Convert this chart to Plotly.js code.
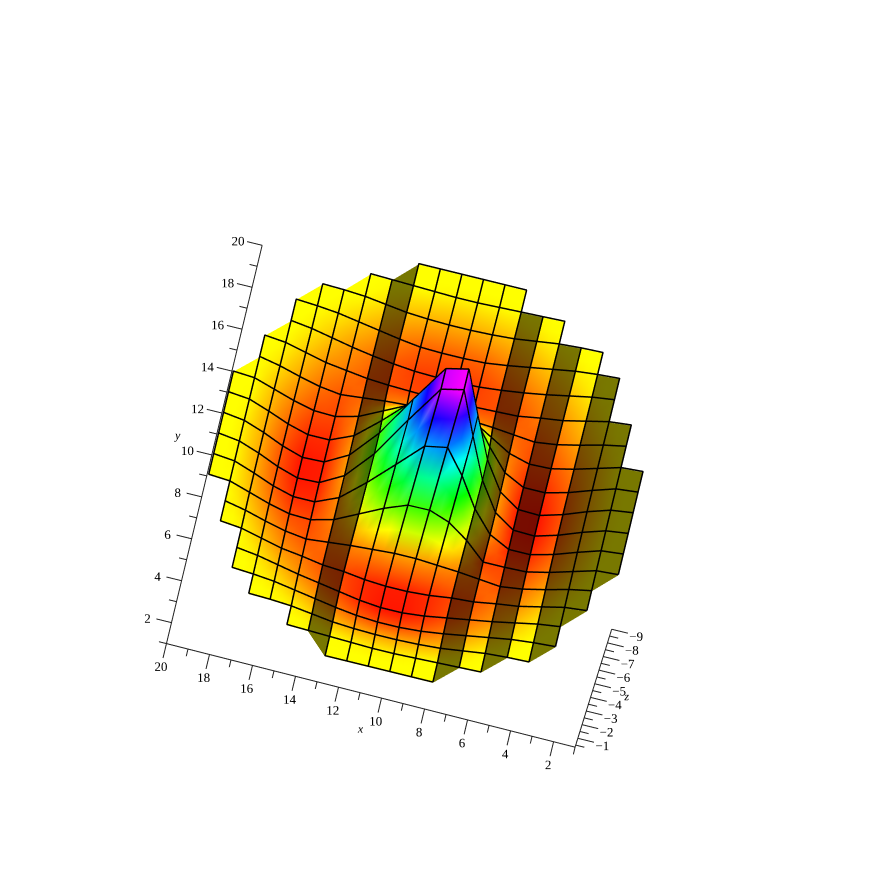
<!DOCTYPE html>
<html><head><meta charset="utf-8">
<script src="https://cdn.plot.ly/plotly-3.0.1.min.js"></script>
<style>html,body{margin:0;padding:0;background:#fff}#c{width:874px;height:874px}</style>
</head><body><div id="c"></div>
<script>
const xValues=[1,2,3,4,5,6,7,8,9,10,11,12,13,14,15,16,17,18,19,20];
const yValues=[1,2,3,4,5,6,7,8,9,10,11,12,13,14,15,16,17,18,19,20];
const n=null;
const zRows=[
[n,n,n,n,n,n,n,-2.35,-2.35,-2.35,-2.35,-2.35,-2.35,n,n,n,n,n,n,n],
[n,n,n,n,n,-2.35,-2.3,-2.25,-2.2,-2.15,-2.15,-2.2,-2.25,-2.3,-2.35,n,n,n,n,n],
[n,n,n,-2.35,-2.3,-2.2,-2.0,-1.8,-1.7,-1.65,-1.65,-1.7,-1.8,-2.0,-2.2,-2.3,-2.35,n,n,n],
[n,n,-2.35,-2.25,-2.1,-1.85,-1.6,-1.35,-1.15,-1.05,-1.05,-1.15,-1.35,-1.6,-1.85,-2.1,-2.25,-2.35,n,n],
[n,n,-2.3,-2.1,-1.8,-1.5,-1.25,-1.0,-0.75,-0.6,-0.6,-0.75,-1.0,-1.25,-1.5,-1.8,-2.1,-2.3,n,n],
[n,-2.35,-2.2,-1.85,-1.5,-1.3,-1.05,-0.95,-0.75,-0.65,-0.65,-0.75,-0.95,-1.05,-1.3,-1.5,-1.85,-2.2,-2.35,n],
[n,-2.3,-2.0,-1.6,-1.25,-1.05,-1.2,-1.35,-1.45,-1.55,-1.55,-1.45,-1.35,-1.2,-1.05,-1.25,-1.6,-2.0,-2.3,n],
[-2.35,-2.25,-1.8,-1.35,-1.0,-0.95,-0.95,-2.15,-3.09,-3.6,-3.58,-2.95,-2.15,-1.35,-0.95,-1.0,-1.35,-1.8,-2.25,-2.35],
[-2.35,-2.2,-1.7,-1.15,-0.75,-0.75,-1.45,-2.95,-5.0,-6.68,-6.39,-4.65,-2.95,-1.45,-0.75,-0.75,-1.15,-1.7,-2.2,-2.35],
[-2.35,-2.15,-1.65,-1.05,-0.6,-0.65,-1.55,-3.55,-6.4,-9.4,-9.05,-6.4,-3.55,-1.55,-0.65,-0.6,-1.05,-1.65,-2.15,-2.35],
[-2.35,-2.15,-1.65,-1.05,-0.6,-0.65,-1.55,-3.55,-6.4,-9.4,-9.05,-6.4,-3.55,-1.55,-0.65,-0.6,-1.05,-1.65,-2.15,-2.35],
[-2.35,-2.2,-1.7,-1.15,-0.75,-0.75,-1.45,-2.95,-4.65,-6.55,-6.55,-4.65,-2.95,-1.45,-0.75,-0.75,-1.15,-1.7,-2.2,-2.35],
[-2.35,-2.25,-1.8,-1.35,-1.0,-0.95,-1.35,-2.15,-2.95,-3.55,-3.55,-2.95,-2.15,-1.35,-0.95,-1.0,-1.35,-1.8,-2.25,-2.35],
[n,-2.3,-2.0,-1.6,-1.25,-1.05,-1.2,-1.35,-1.45,-1.55,-1.55,-1.45,-1.35,-1.2,-1.05,-1.25,-1.6,-2.0,-2.3,n],
[n,-2.35,-2.2,-1.85,-1.5,-1.3,-1.05,-1.0,-0.95,-0.9,-0.9,-0.95,-1.0,-1.1,-1.3,-1.5,-1.85,-2.2,-2.35,n],
[n,n,-2.3,-2.1,-1.8,-1.5,-1.25,-1.05,-0.9,-0.85,-0.85,-0.9,-1.05,-1.25,-1.5,-1.8,-2.1,-2.3,n,n],
[n,n,-2.35,-2.25,-2.1,-1.85,-1.6,-1.35,-1.15,-1.1,-1.1,-1.15,-1.35,-1.6,-1.85,-2.1,-2.25,-2.35,n,n],
[n,n,n,-2.35,-2.3,-2.2,-2.0,-1.8,-1.7,-1.65,-1.65,-1.7,-1.8,-2.0,-2.2,-2.3,-2.35,n,n,n],
[n,n,n,n,n,-2.35,-2.3,-2.25,-2.2,-2.15,-2.15,-2.2,-2.25,-2.3,-2.35,n,n,n,n,n],
[n,n,n,n,n,n,n,-2.35,-2.35,-2.35,-2.35,-2.35,-2.35,n,n,n,n,n,n,n]
];
const darkColumns=[1,2,3,5,7,13];
const xMajor=[2,4,6,8,10,12,14,16,18,20];
const xMinor=[1,3,5,7,9,11,13,15,17,19];
const yMajor=[2,4,6,8,10,12,14,16,18,20];
const yMinor=[1,3,5,7,9,11,13,15,17,19];
const zMajor=[-1,-2,-3,-4,-5,-6,-7,-8,-9];
const zMinor=[-0.5,-1.5,-2.5,-3.5,-4.5,-5.5,-6.5,-7.5,-8.5];

function hueOf(z){
  const h=33.5*(-0.45-z);
  if(z>-2.42)return Math.max(0,Math.min(60,h));
  return Math.min(300,h);
}
function rgb(z,f){
  const h=hueOf(z)/60,c=255,x=c*(1-Math.abs(h%2-1));
  let p=h<1?[c,x,0]:h<2?[x,c,0]:h<3?[0,c,x]:h<4?[0,x,c]:h<5?[x,0,c]:[c,0,x];
  return 'rgb('+p.map(v=>Math.round(v*f)).join(',')+')';
}
const mx=[],my=[],mz=[],mc=[],mi=[],mj=[],mk=[],wx=[],wy=[],wz=[];
const lift=0.06, sub=2;
function addVertex(x,y,z,f){mx.push(x);my.push(y);mz.push(z);mc.push(rgb(z,f));return mx.length-1;}
for(let r=0;r<19;r++)for(let c=0;c<19;c++){
  const z00=zRows[r][c],z10=zRows[r][c+1],z11=zRows[r+1][c+1],z01=zRows[r+1][c];
  const x0=xValues[c],y0=yValues[r];
  const f=darkColumns.includes(x0)?0.47:1;
  if(z00!==null&&z10!==null&&z11!==null&&z01!==null){
    const ids=[];
    for(let j=0;j<=sub;j++)for(let i=0;i<=sub;i++){
      const u=i/sub,v=j/sub;
      ids.push(addVertex(x0+u,y0+v,(1-u)*(1-v)*z00+u*(1-v)*z10+u*v*z11+(1-u)*v*z01,f));
    }
    for(let j=0;j<sub;j++)for(let i=0;i<sub;i++){
      const a=ids[j*(sub+1)+i],b=ids[j*(sub+1)+i+1],d=ids[(j+1)*(sub+1)+i],e=ids[(j+1)*(sub+1)+i+1];
      mi.push(a,b);mj.push(b,e);mk.push(d,d);
    }
    [[x0,y0,z00],[x0+1,y0,z10],[x0+1,y0+1,z11],[x0,y0+1,z01],[x0,y0,z00]].forEach(p=>{wx.push(p[0]);wy.push(p[1]);wz.push(p[2]-lift);});
    wx.push(null);wy.push(null);wz.push(null);
  } else {
    const missHigh=z11===null&&z00!==null&&z10!==null&&z01!==null;
    const missLow=z00===null&&z10!==null&&z11!==null&&z01!==null;
    const kept=x0===13&&y0===1;
    if(missHigh||missLow||kept){
      const pts=[[x0,y0,z00],[x0+1,y0,z10],[x0+1,y0+1,z11],[x0,y0+1,z01]].filter(p=>p[2]!==null);
      const a=addVertex(pts[0][0],pts[0][1],pts[0][2],f),b=addVertex(pts[1][0],pts[1][1],pts[1][2],f),d=addVertex(pts[2][0],pts[2][1],pts[2][2],f);
      mi.push(a);mj.push(b);mk.push(d);
    }
  }
}
const plane=(x,y)=>-0.35-0.0121*(x-1)-0.0242*(y-1);
const ax=[],ay=[],az=[];
function seg(x0,y0,z0,x1,y1,z1){ax.push(x0,x1,null);ay.push(y0,y1,null);az.push(z0,z1,null);}
seg(1,1,plane(1,1),20,1,plane(20,1));
seg(20,1,plane(20,1),20,20,plane(20,20));
seg(1,1,plane(1,1),1,1,-9);
xMajor.forEach(v=>seg(v,1,plane(v,1),v,0.3,plane(v,1)));
xMinor.forEach(v=>seg(v,1,plane(v,1),v,0.65,plane(v,1)));
yMajor.forEach(v=>seg(20,v,plane(20,v),20.7,v,plane(20,v)));
yMinor.forEach(v=>seg(20,v,plane(20,v),20.35,v,plane(20,v)));
zMajor.forEach(v=>seg(1,1,v,0.25,1,v));
zMinor.forEach(v=>seg(1,1,v,0.6,1,v));

const tx=[],ty=[],tz=[],tt=[];
xMajor.forEach(v=>{tx.push(v);ty.push(-0.12);tz.push(plane(v,1));tt.push(String(v));});
yMajor.forEach(v=>{tx.push(21.1);ty.push(v-0.08);tz.push(plane(20,v));tt.push(String(v));});
zMajor.forEach(v=>{tx.push(-0.15);ty.push(1);tz.push(v+0.1);tt.push('\u2212'+Math.abs(v));});

const traces=[
 {type:'mesh3d',x:mx,y:my,z:mz,i:mi,j:mj,k:mk,vertexcolor:mc,flatshading:false,showscale:false,hoverinfo:'skip',
  lighting:{ambient:1,diffuse:0,specular:0,roughness:1,fresnel:0}},
 {type:'scatter3d',mode:'lines',x:wx,y:wy,z:wz,line:{color:'#000',width:3},hoverinfo:'skip',connectgaps:false},
 {type:'scatter3d',mode:'lines',x:ax,y:ay,z:az,line:{color:'#222',width:2},hoverinfo:'skip',connectgaps:false},
 {type:'scatter3d',mode:'text',x:tx,y:ty,z:tz,text:tt,textposition:'middle center',
  textfont:{family:'Liberation Serif',size:13,color:'#000'},hoverinfo:'skip'},
 {type:'scatter3d',mode:'text',x:[10.6,21.7,-0.55],y:[-0.7,10.4,1],z:[plane(11,1),plane(20,10),-4.6],text:['x','y','z'],
  textposition:'middle center',textfont:{family:'Liberation Serif',size:12,color:'#000',style:'italic'},hoverinfo:'skip'}
];
const hide={visible:false,autorange:false,showspikes:false};
const d=2, k=1.27;
const layout={width:874,height:874,margin:{l:0,r:0,t:0,b:0},paper_bgcolor:'#fff',showlegend:false,hovermode:false,
 scene:{aspectmode:'manual',aspectratio:{x:k,y:k,z:k},domain:{x:[0,1],y:[0,1]},bgcolor:'#fff',
  xaxis:Object.assign({range:[-2,23]},hide),
  yaxis:Object.assign({range:[-2,23]},hide),
  zaxis:Object.assign({range:[-10.78,0.70]},hide),
  camera:{projection:{type:'orthographic'},center:{x:0,y:0,z:0},
   eye:{x:0.0187*d,y:-0.2947*d,z:-0.9555*d},up:{x:0.2381,y:0.9294,z:-0.2819}}}};
Plotly.newPlot('c',traces,layout,{displayModeBar:false,staticPlot:false});
</script></body></html>
